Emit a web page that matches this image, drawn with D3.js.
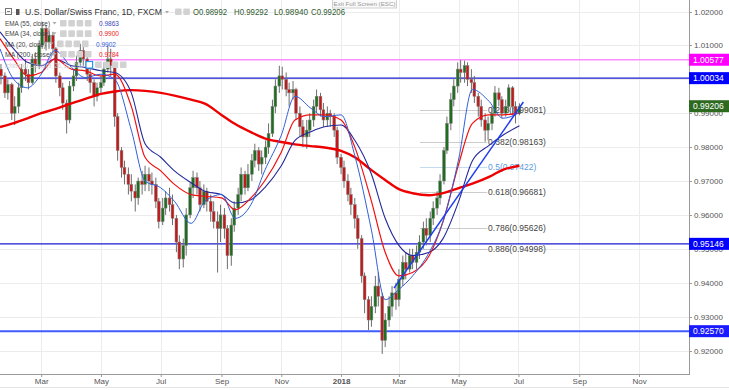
<!DOCTYPE html>
<html>
<head>
<meta charset="utf-8">
<script src="https://cdnjs.cloudflare.com/ajax/libs/d3/7.8.5/d3.min.js"></script>
<style>
  body { margin: 0; background: #fff; }
  svg { display: block; font-family: "Liberation Sans", Arial, sans-serif; }
</style>
</head>
<body>
<svg id="chart" width="729" height="390"></svg>
<script>
// USD/CHF daily chart, drawn with two bars a week (Mon / Thu)
const firstBarDate = "2017-01-19";
const firstOpen = 1.0030;

const closes = [
  1.0010, 0.9960, 0.9985, 0.9900, 0.9920, 0.9975, 1.0030, 1.0015, 0.9990, 1.0060,
  1.0040, 1.0100, 1.0150, 1.0110, 1.0130, 1.0090, 1.0010, 0.9975, 0.9930, 0.9880,
  0.9980, 1.0010, 1.0050, 1.0085, 1.0060, 1.0015, 0.9990, 0.9950, 0.9975, 0.9990,
  1.0030, 1.0060, 1.0040, 0.9890, 0.9790, 0.9740, 0.9720, 0.9690, 0.9670, 0.9650,
  0.9700, 0.9690, 0.9720, 0.9700, 0.9690, 0.9640, 0.9580, 0.9620, 0.9650, 0.9630,
  0.9590, 0.9520, 0.9470, 0.9510, 0.9600, 0.9680, 0.9710, 0.9680, 0.9630, 0.9670,
  0.9640, 0.9610, 0.9580, 0.9560, 0.9600, 0.9560, 0.9480, 0.9570, 0.9620, 0.9660,
  0.9720, 0.9680, 0.9720, 0.9760, 0.9790, 0.9750, 0.9770, 0.9800, 0.9840, 0.9920,
  0.9980, 1.0010, 1.0000, 0.9970, 0.9960, 0.9970, 0.9900, 0.9860, 0.9830, 0.9850,
  0.9880, 0.9920, 0.9950, 0.9910, 0.9880, 0.9900, 0.9890, 0.9850, 0.9770, 0.9740,
  0.9700, 0.9660, 0.9630, 0.9590, 0.9530, 0.9420, 0.9350, 0.9290, 0.9330, 0.9390,
  0.9360, 0.9230, 0.9290, 0.9330, 0.9370, 0.9350, 0.9410, 0.9460, 0.9440, 0.9480,
  0.9460, 0.9490, 0.9520, 0.9560, 0.9540, 0.9590, 0.9620, 0.9650, 0.9700, 0.9790,
  0.9870, 0.9940, 0.9980, 1.0030, 1.0020, 1.0040, 1.0000, 0.9990, 0.9950, 0.9920,
  0.9880, 0.9850, 0.9870, 0.9900, 0.9960, 0.9940, 0.9900, 0.9920, 0.9975, 0.9920,
  0.9899, 0.99206
];
const highs = [
  1.0045, 1.0020, 1.0000, 0.9990, 0.9950, 0.9990, 1.0045, 1.0060, 1.0030, 1.0075,
  1.0080, 1.0115, 1.0170, 1.0160, 1.0150, 1.0140, 1.0095, 1.0020, 0.9990, 0.9940,
  0.9995, 1.0030, 1.0070, 1.0105, 1.0100, 1.0070, 1.0030, 1.0000, 0.9990, 1.0010,
  1.0050, 1.0100, 1.0090, 1.0050, 0.9900, 0.9800, 0.9760, 0.9740, 0.9720, 0.9690,
  0.9710, 0.9730, 0.9745, 0.9740, 0.9725, 0.9710, 0.9650, 0.9650, 0.9670, 0.9680,
  0.9660, 0.9600, 0.9540, 0.9530, 0.9620, 0.9695, 0.9730, 0.9725, 0.9700, 0.9690,
  0.9680, 0.9660, 0.9640, 0.9610, 0.9630, 0.9620, 0.9570, 0.9590, 0.9640, 0.9680,
  0.9740, 0.9730, 0.9750, 0.9780, 0.9810, 0.9800, 0.9790, 0.9820, 0.9870, 0.9940,
  1.0000, 1.0040, 1.0037, 1.0020, 0.9990, 0.9995, 0.9975, 0.9920, 0.9880, 0.9880,
  0.9900, 0.9940, 0.9970, 0.9960, 0.9930, 0.9920, 0.9910, 0.9900, 0.9860, 0.9780,
  0.9760, 0.9720, 0.9680, 0.9650, 0.9600, 0.9540, 0.9430, 0.9360, 0.9360, 0.9420,
  0.9430, 0.9370, 0.9310, 0.9360, 0.9390, 0.9400, 0.9440, 0.9480, 0.9490, 0.9500,
  0.9500, 0.9510, 0.9540, 0.9580, 0.9590, 0.9610, 0.9640, 0.9670, 0.9720, 0.9800,
  0.9890, 0.9960, 1.0000, 1.0050, 1.0057, 1.0055, 1.0050, 1.0030, 1.0010, 0.9960,
  0.9940, 0.9900, 0.9890, 0.9920, 0.9980, 0.9975, 0.9950, 0.9940, 0.9985, 0.9980,
  0.9935, 0.99292
];
const lows = [
  0.9985, 0.9945, 0.9940, 0.9880, 0.9865, 0.9900, 0.9960, 0.9995, 0.9970, 0.9985,
  1.0020, 1.0030, 1.0090, 1.0085, 1.0090, 1.0070, 0.9990, 0.9950, 0.9910, 0.9840,
  0.9870, 0.9965, 0.9995, 1.0040, 1.0040, 0.9995, 0.9960, 0.9920, 0.9935, 0.9960,
  0.9980, 1.0020, 1.0010, 0.9860, 0.9760, 0.9710, 0.9690, 0.9660, 0.9640, 0.9610,
  0.9630, 0.9660, 0.9670, 0.9670, 0.9660, 0.9620, 0.9560, 0.9570, 0.9600, 0.9610,
  0.9570, 0.9490, 0.9440, 0.9445, 0.9480, 0.9590, 0.9650, 0.9660, 0.9610, 0.9620,
  0.9610, 0.9580, 0.9560, 0.9430, 0.9520, 0.9530, 0.9440, 0.9450, 0.9550, 0.9600,
  0.9640, 0.9660, 0.9670, 0.9700, 0.9740, 0.9730, 0.9720, 0.9750, 0.9780, 0.9830,
  0.9900, 0.9960, 0.9970, 0.9950, 0.9920, 0.9940, 0.9880, 0.9830, 0.9800, 0.9795,
  0.9830, 0.9860, 0.9900, 0.9890, 0.9860, 0.9860, 0.9860, 0.9830, 0.9750, 0.9720,
  0.9680, 0.9640, 0.9600, 0.9560, 0.9500, 0.9400, 0.9310, 0.9260, 0.9270, 0.9310,
  0.9330, 0.9190, 0.9210, 0.9270, 0.9300, 0.9320, 0.9330, 0.9390, 0.9410, 0.9430,
  0.9440, 0.9440, 0.9470, 0.9500, 0.9510, 0.9520, 0.9570, 0.9600, 0.9630, 0.9690,
  0.9780, 0.9850, 0.9920, 0.9960, 0.9990, 0.9990, 0.9980, 0.9960, 0.9930, 0.9890,
  0.9860, 0.9816, 0.9820, 0.9850, 0.9890, 0.9920, 0.9885, 0.9890, 0.9905, 0.9895,
  0.9870, 0.98940
];

// Moving averages, semi-monthly
const maDates = [
  "2017-01-18", "2017-02-01", "2017-02-15", "2017-03-01", "2017-03-15", "2017-04-01",
  "2017-04-15", "2017-05-01", "2017-05-15", "2017-06-01", "2017-06-15", "2017-07-01",
  "2017-07-15", "2017-08-01", "2017-08-15", "2017-09-01", "2017-09-15", "2017-10-01",
  "2017-10-15", "2017-11-01", "2017-11-15", "2017-12-01", "2017-12-15", "2018-01-01",
  "2018-01-15", "2018-02-01", "2018-02-15", "2018-03-01", "2018-03-15", "2018-04-01",
  "2018-04-15", "2018-05-01", "2018-05-15", "2018-06-01", "2018-06-15", "2018-07-02"
];
const ma20 = [
  1.0090, 1.0000, 0.9975, 1.0015, 1.0085, 1.0035, 1.0005, 1.0015, 1.0000, 0.9850,
  0.9700, 0.9680, 0.9640, 0.9575, 0.9640, 0.9660, 0.9590, 0.9630, 0.9730, 0.9835,
  0.9950, 0.9915, 0.9890, 0.9895, 0.9775, 0.9555, 0.9350, 0.9380, 0.9420, 0.9490,
  0.9580, 0.9765, 0.9970, 0.9935, 0.9885, 0.9902
];
const ema34 = [
  1.0120, 1.0060, 1.0010, 1.0020, 1.0060, 1.0030, 1.0025, 1.0010, 1.0015, 0.9920,
  0.9770, 0.9730, 0.9690, 0.9660, 0.9655, 0.9650, 0.9615, 0.9650, 0.9700, 0.9785,
  0.9880, 0.9895, 0.9895, 0.9880, 0.9800, 0.9640, 0.9490, 0.9420, 0.9430, 0.9480,
  0.9580, 0.9750, 0.9870, 0.9895, 0.9895, 0.9900
];
const ema55 = [
  1.0140, 1.0090, 1.0050, 1.0040, 1.0060, 1.0040, 1.0035, 1.0025, 1.0020, 0.9960,
  0.9810, 0.9770, 0.9730, 0.9695, 0.9670, 0.9660, 0.9635, 0.9645, 0.9680, 0.9745,
  0.9820, 0.9845, 0.9860, 0.9865, 0.9820, 0.9720, 0.9590, 0.9510, 0.9480, 0.9490,
  0.9530, 0.9640, 0.9760, 0.9805, 0.9835, 0.9863
];
const ma200 = [
  0.9859, 0.9871, 0.9885, 0.9900, 0.9912, 0.9929, 0.9942, 0.9957, 0.9964, 0.9968,
  0.9966, 0.9960, 0.9952, 0.9940, 0.9928, 0.9895, 0.9868, 0.9844, 0.9826, 0.9815,
  0.9808, 0.9803, 0.9799, 0.9789, 0.9770, 0.9732, 0.9703, 0.9676, 0.9664, 0.9658,
  0.9664, 0.9679, 0.9692, 0.9712, 0.9733, 0.9745
];

// Fibonacci retracement
const fibRatios = ["0.236", "0.382", "0.5", "0.618", "0.786", "0.886"];
const fibPrices = [0.99081, 0.98163, 0.97422, 0.96681, 0.95626, 0.94998];
const fibSpan = ["2018-03-23", "2018-05-30"];

// Horizontal levels
const levelPrices = [1.00577, 1.00034, 0.95146, 0.92570];
const levelLine = ["#ff8cff", "#1a1ad0", "#1a1ad0", "#3f5cff"];
const levelBox = ["#ff00ff", "#0000ff", "#0000ff", "#1a1aff"];
const levelWidth = [1.6, 1.4, 1.4, 2];

// Trend line
const trendDates = ["2018-02-24", "2018-07-06"];
const trendPrices = [0.9384, 0.9933];

const lastPrice = 0.99206;
const yTicks = [1.02, 1.01, 1.00, 0.99, 0.98, 0.97, 0.96, 0.95, 0.94, 0.93, 0.92];

// Legend rows
const legendNames = ["EMA (55, close)", "EMA (34, close)", "MA (20, close)", "MA (200, close)"];
const legendValues = ["0.9863", "0.9900", "0.9902", "0.9784"];
const legendColors = ["#3b47b8", "#f01818", "#3060d8", "#f01818"];

// ---- layout
const plotW = 689, plotH = 374;
const parseDate = d3.timeParse("%Y-%m-%d");

const svg = d3.select("#chart");

const x = d3.scaleTime()
  .domain([new Date(2017, 0, 18), new Date(2018, 11, 22)])
  .range([0, plotW]);
const y = d3.scaleLinear()
  .domain([0.92, 1.02])
  .range([350.5, 11.5]);

const candleDates = closes.map((_, i) =>
  d3.timeDay.offset(parseDate(firstBarDate), Math.ceil(i / 2) * 4 + Math.floor(i / 2) * 3));
const candles = closes.map((c, i) => {
  const o = i === 0 ? firstOpen : closes[i - 1];
  return {
    date: candleDates[i], o, c,
    h: Math.max(highs[i], o, c),
    l: Math.min(lows[i], o, c)
  };
});

svg.append("defs").append("clipPath").attr("id", "plotClip")
  .append("rect").attr("width", plotW).attr("height", plotH);

// grid
const monthTicks = x.ticks(d3.timeMonth.every(2));
const grid = svg.append("g");
grid.selectAll(".hg").data(yTicks).enter().append("line")
  .attr("x1", 0).attr("x2", plotW)
  .attr("y1", d => Math.round(y(d)) + 0.5).attr("y2", d => Math.round(y(d)) + 0.5)
  .attr("stroke", "#ececec");
grid.selectAll(".vg").data(monthTicks).enter().append("line")
  .attr("x1", d => Math.round(x(d)) + 0.5).attr("x2", d => Math.round(x(d)) + 0.5)
  .attr("y1", 0).attr("y2", plotH)
  .attr("stroke", "#ececec");

const plot = svg.append("g").attr("clip-path", "url(#plotClip)");

// fibonacci levels
const fib = plot.append("g");
fibPrices.forEach((p, i) => {
  const isMid = fibRatios[i] === "0.5";
  fib.append("line")
    .attr("x1", x(parseDate(fibSpan[0]))).attr("x2", x(parseDate(fibSpan[1])))
    .attr("y1", Math.round(y(p)) + 0.5).attr("y2", Math.round(y(p)) + 0.5)
    .attr("stroke", isMid ? "#8ab4e8" : "#999")
    .attr("stroke-dasharray", "1,1");
  fib.append("text")
    .attr("x", x(parseDate(fibSpan[1])) + 1)
    .attr("y", y(p) + 3)
    .attr("font-size", 8.5)
    .attr("fill", isMid ? "#5b9be0" : "#444")
    .text(`${fibRatios[i]}(${p.toFixed(5)})`);
});

// horizontal levels
levelPrices.forEach((p, i) => {
  plot.append("line")
    .attr("x1", 0).attr("x2", plotW)
    .attr("y1", y(p)).attr("y2", y(p))
    .attr("stroke", levelLine[i]).attr("stroke-width", levelWidth[i]);
});

// candles
const cg = plot.append("g");
const bw = 2.8;
cg.selectAll(".wick").data(candles).enter().append("line")
  .attr("x1", d => x(d.date)).attr("x2", d => x(d.date))
  .attr("y1", d => y(d.h)).attr("y2", d => y(d.l))
  .attr("stroke", "#6e6e6e").attr("stroke-width", 1);
cg.selectAll(".body").data(candles).enter().append("rect")
  .attr("x", d => x(d.date) - bw / 2)
  .attr("y", d => y(Math.max(d.o, d.c)))
  .attr("width", bw)
  .attr("height", d => Math.max(0.8, Math.abs(y(d.o) - y(d.c))))
  .attr("fill", d => d.c >= d.o ? "#1f6e1f" : "#c21a1a")
  .attr("stroke", "#808080").attr("stroke-width", 0.5);

// moving averages
const maLine = d3.line()
  .x((d, i) => x(parseDate(maDates[i])))
  .y(d => y(d))
  .curve(d3.curveMonotoneX);
plot.append("path").attr("d", maLine(ma200))
  .attr("fill", "none").attr("stroke", "#ee0000").attr("stroke-width", 2.4);
plot.append("path").attr("d", maLine(ema55))
  .attr("fill", "none").attr("stroke", "#23299a").attr("stroke-width", 1.1);
plot.append("path").attr("d", maLine(ema34))
  .attr("fill", "none").attr("stroke", "#f01010").attr("stroke-width", 1.2);
plot.append("path").attr("d", maLine(ma20))
  .attr("fill", "none").attr("stroke", "#2f5fd8").attr("stroke-width", 1);

// trend line
plot.append("line")
  .attr("x1", x(parseDate(trendDates[0]))).attr("y1", y(trendPrices[0]))
  .attr("x2", x(parseDate(trendDates[1]))).attr("y2", y(trendPrices[1]))
  .attr("stroke", "#1f3cf0").attr("stroke-width", 1.5);

// ---- axes
svg.append("line").attr("x1", plotW + 0.5).attr("x2", plotW + 0.5)
  .attr("y1", 0).attr("y2", plotH).attr("stroke", "#9a9a9a");
svg.append("line").attr("x1", 0).attr("x2", plotW + 1)
  .attr("y1", plotH + 0.5).attr("y2", plotH + 0.5).attr("stroke", "#9a9a9a");
svg.append("line").attr("x1", 0).attr("x2", 729)
  .attr("y1", 387.5).attr("y2", 387.5).attr("stroke", "#e4e4e4");

// price boxes on the right scale (the last price plus the levels)
const boxes = levelPrices.map((p, i) => ({ p, color: levelBox[i] }))
  .concat([{ p: lastPrice, color: "#2d6a1f" }]);

// tick labels that sit fully under a price box are hidden, as on the reference
const shownTicks = yTicks.filter(t => !boxes.some(b => Math.abs(y(b.p) - y(t)) < 3));

const yAxis = svg.append("g");
yAxis.selectAll(".tk").data(yTicks).enter().append("line")
  .attr("x1", plotW).attr("x2", plotW + 3)
  .attr("y1", d => Math.round(y(d)) + 0.5).attr("y2", d => Math.round(y(d)) + 0.5)
  .attr("stroke", "#9a9a9a");
yAxis.selectAll(".lb").data(shownTicks).enter().append("text")
  .attr("x", plotW + 5).attr("y", d => y(d) + 3)
  .attr("font-size", 8).attr("fill", "#555")
  .text(d3.format(".5f"));

const xAxis = svg.append("g").attr("transform", `translate(0,${plotH})`)
  .call(d3.axisBottom(x)
    .ticks(d3.timeMonth.every(2))
    .tickSize(3)
    .tickFormat(d => d.getMonth() === 0 ? d3.timeFormat("%Y")(d) : d3.timeFormat("%b")(d)));
xAxis.select(".domain").remove();
xAxis.selectAll(".tick line").attr("stroke", "#9a9a9a");
xAxis.selectAll(".tick text")
  .attr("font-family", "Liberation Sans, Arial, sans-serif")
  .attr("font-size", 8).attr("fill", "#555").attr("dy", "0.55em")
  .attr("font-weight", d => d.getMonth() === 0 ? "bold" : "normal");

boxes.forEach(b => {
  svg.append("rect").attr("x", plotW).attr("y", y(b.p) - 6)
    .attr("width", 729 - plotW).attr("height", 12).attr("fill", b.color);
  svg.append("text").attr("x", plotW + 4).attr("y", y(b.p) + 3)
    .attr("font-size", 8.5).attr("fill", "#fff").text(b.p.toFixed(5));
});

// ---- legend
const lg = svg.append("g");
function icons(x0, yc, n) {
  for (let k = 0; k < n; k++) {
    lg.append("rect").attr("x", x0 + k * 8.3).attr("y", yc - 3.5)
      .attr("width", 6.6).attr("height", 6.6).attr("rx", 1).attr("fill", "#d2d2d2");
  }
}
function caret(x0, yy) {
  lg.append("path").attr("d", `M${x0},${yy - 4}h4l-2,2.5z`).attr("fill", "#aaa");
}
lg.append("rect").attr("x", 5.5).attr("y", 8.5).attr("width", 6).attr("height", 6)
  .attr("fill", "none").attr("stroke", "#777");
lg.append("line").attr("x1", 7).attr("x2", 10).attr("y1", 11.5).attr("y2", 11.5).attr("stroke", "#777");
lg.append("rect").attr("x", 16).attr("y", 9).attr("width", 3.5).attr("height", 6).attr("fill", "#555");
lg.append("text").attr("x", 25).attr("y", 15).attr("font-size", 9.6).attr("fill", "#333")
  .attr("textLength", 137).attr("lengthAdjust", "spacingAndGlyphs")
  .text("U.S. Dollar/Swiss Franc, 1D, FXCM");
caret(165, 15);
icons(175, 12, 2);
const ohlc = [["O", "0.98992", 193], ["H", "0.99292", 234], ["L", "0.98940", 274], ["C", "0.99206", 311]];
ohlc.forEach(([k, v, px]) => {
  lg.append("text").attr("x", px).attr("y", 15).attr("font-size", 8.8).attr("fill", "#2f5a2f")
    .attr("textLength", 34).attr("lengthAdjust", "spacingAndGlyphs")
    .text(k + v);
});

const nameLen = [45, 45, 41, 47];
legendNames.forEach((name, i) => {
  const yy = 26 + i * 10.3;
  lg.append("text").attr("x", 5).attr("y", yy).attr("font-size", 7.8).attr("fill", "#444")
    .attr("textLength", nameLen[i]).attr("lengthAdjust", "spacingAndGlyphs")
    .text(name);
  const ix = i === 2 ? 57 : 60;
  caret(ix - 7.5, yy);
  icons(ix, yy - 2.5, 4);
  lg.append("text").attr("x", ix + 39).attr("y", yy).attr("font-size", 7.8)
    .attr("textLength", 20).attr("lengthAdjust", "spacingAndGlyphs")
    .attr("fill", legendColors[i]).text(legendValues[i]);
});
lg.append("text").attr("x", 5).attr("y", 67.5).attr("font-size", 7.6).attr("fill", "#cfcfcf")
  .attr("textLength", 77).attr("lengthAdjust", "spacingAndGlyphs")
  .text("Ichimoku Cloud (9, 26, 52, 26)");
lg.append("rect").attr("x", 86).attr("y", 61.5).attr("width", 6.6).attr("height", 6.6)
  .attr("fill", "#fff").attr("stroke", "#2196f3").attr("stroke-width", 1.2);
icons(95, 65, 4);

// fullscreen tooltip
svg.append("rect").attr("x", 332.5).attr("y", -1).attr("width", 64).attr("height", 9)
  .attr("fill", "#fafafa").attr("stroke", "#d0d0d0");
svg.append("text").attr("x", 364.5).attr("y", 6).attr("text-anchor", "middle")
  .attr("font-size", 6.2).attr("fill", "#999").text("Exit Full Screen (ESC)");
</script>
</body>
</html>
